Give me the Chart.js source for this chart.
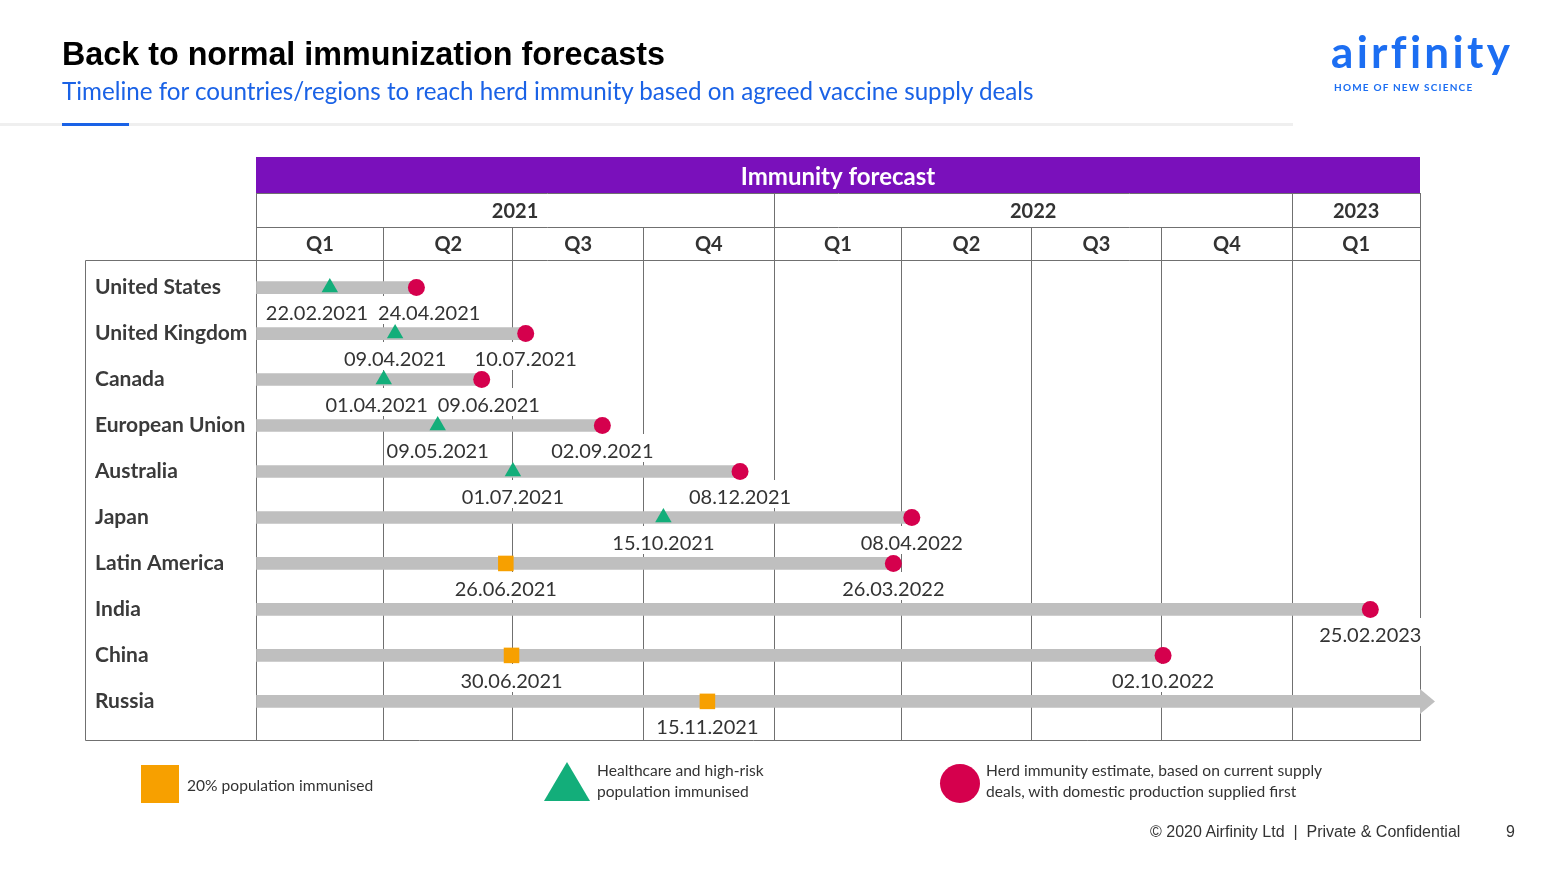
<!DOCTYPE html>
<html>
<head>
<meta charset="utf-8">
<script src="https://cdn.jsdelivr.net/npm/chart.js@4"></script>
<style>
  body { margin: 0; background: #fff; }
  #page { position: relative; width: 1547px; height: 869px; overflow: hidden; }
  #c { position: absolute; left: 0; top: 0; }
  .t { position: absolute; white-space: nowrap; line-height: 1; }
</style>
</head>
<body>
<div id="page">
  <canvas id="c" width="1547" height="869"></canvas>

  <div class="t" style="left:62px;top:36px;font:bold 32.3px 'Liberation Sans';color:#000">Back to normal immunization forecasts</div>
  <div class="t" style="left:62px;top:76px;font:24.2px Lato;color:#1a62e6">Timeline for countries/regions to reach herd immunity based on agreed vaccine supply deals</div>
  <div style="position:absolute;left:0;top:123px;width:1293px;height:3px;background:#efefef"></div>
  <div style="position:absolute;left:62px;top:123px;width:67px;height:3px;background:#1a62e6"></div>

  <!-- logo -->
  <div class="t" style="left:1331px;top:25px;font:bold 44px Lato;letter-spacing:3.3px;color:#1c6ef2">airfinity</div>
  <div class="t" style="left:1334px;top:81px;font:bold 10px Lato;letter-spacing:1.2px;color:#1c6ef2">HOME OF NEW SCIENCE</div>

  <!-- legend -->
  <div style="position:absolute;left:141px;top:765px;width:38px;height:38px;background:#f7a000"></div>
  <div class="t" style="left:187px;top:776px;font:15.6px Lato;color:#333">20% population immunised</div>
  <div style="position:absolute;left:544px;top:762px;width:0;height:0;border-left:23px solid transparent;border-right:23px solid transparent;border-bottom:39px solid #13ae7a"></div>
  <div class="t" style="left:597px;top:760px;font:15.6px Lato;line-height:21px;color:#333">Healthcare and high-risk<br>population immunised</div>
  <div style="position:absolute;left:940px;top:764px;width:40px;height:39px;border-radius:50%;background:#d5004d"></div>
  <div class="t" style="left:986px;top:760px;font:15.6px Lato;line-height:21px;color:#333">Herd immunity estimate, based on current supply<br>deals, with domestic production supplied first</div>

  <!-- footer -->
  <div class="t" style="left:1150px;top:823px;font:16px 'Liberation Sans';color:#333">© 2020 Airfinity Ltd&nbsp; |&nbsp; Private &amp; Confidential</div>
  <div class="t" style="left:1506px;top:823px;font:16px 'Liberation Sans';color:#333">9</div>
</div>

<script>
// Rows, top to bottom
const countries = ['United States', 'United Kingdom', 'Canada', 'European Union', 'Australia',
                   'Japan', 'Latin America', 'India', 'China', 'Russia'];

// Milestone dates (dd.mm.yyyy), null where a country has none
const healthcareDates = ['22.02.2021', '09.04.2021', '01.04.2021', '09.05.2021', '01.07.2021',
                         '15.10.2021', null, null, null, null];
const twentyPctDates = [null, null, null, null, null, null, '26.06.2021', null, '30.06.2021', '15.11.2021'];
const herdDates = ['24.04.2021', '10.07.2021', '09.06.2021', '02.09.2021', '08.12.2021',
                   '08.04.2022', '26.03.2022', '25.02.2023', '02.10.2022', null];

// Header
const quarterLabels = ['Q1', 'Q2', 'Q3', 'Q4', 'Q1', 'Q2', 'Q3', 'Q4', 'Q1'];
const quarterStarts = ['01.01.2021', '01.04.2021', '01.07.2021', '01.10.2021', '01.01.2022',
                       '01.04.2022', '01.07.2022', '01.10.2022', '01.01.2023', '01.04.2023'];
const yearLabels = ['2021', '2022', '2023'];
const yearStarts = ['01.01.2021', '01.01.2022', '01.01.2023', '01.04.2023'];

const PURPLE = '#7a10bb', GREEN = '#13ae7a', RED = '#d5004d', ORANGE = '#f7a000';
const BAR = '#bfbfbf', LINE = '#707070', TEXT = '#333333';

function toDay(s) {
    const [d, m, y] = s.split('.').map(Number);
    return (Date.UTC(y, m - 1, d) - Date.UTC(2021, 0, 1)) / 86400000;
}
const endDay = toDay(quarterStarts[quarterStarts.length - 1]);

function points(dates) {
    const out = [];
    dates.forEach((d, i) => { if (d) out.push({ x: toDay(d), y: i }); });
    return out;
}

const barData = countries.map((c, i) => ({ x: herdDates[i] ? toDay(herdDates[i]) : endDay, y: i }));

function px(v) { return Math.round(v - 0.5) + 0.5; }

// table header above the plot + left box
const headerPlugin = {
    id: 'header',
    afterDraw(chart) {
        const ctx = chart.ctx, xs = chart.scales.x;
        const { left, right, top, bottom } = chart.chartArea;
        const bandTop = top - 103, yearTop = top - 67, qTop = top - 33;
        ctx.save();
        ctx.fillStyle = PURPLE;
        ctx.fillRect(left, bandTop, right - left, 36);
        ctx.fillStyle = '#fff';
        ctx.font = 'bold 24px Lato';
        ctx.textAlign = 'center';
        ctx.textBaseline = 'middle';
        ctx.fillText('Immunity forecast', (left + right) / 2, bandTop + 20);

        ctx.strokeStyle = LINE;
        ctx.lineWidth = 1;
        ctx.beginPath();
        [yearTop, qTop, top].forEach(y => { ctx.moveTo(left, px(y)); ctx.lineTo(right + 1, px(y)); });
        // left box
        const boxL = px(left - 171);
        ctx.moveTo(boxL, px(top)); ctx.lineTo(left, px(top));
        ctx.moveTo(boxL, px(top)); ctx.lineTo(boxL, px(bottom));
        ctx.moveTo(boxL, px(bottom)); ctx.lineTo(right + 1, px(bottom));
        yearStarts.forEach(d => { const x = px(xs.getPixelForValue(toDay(d))); ctx.moveTo(x, yearTop); ctx.lineTo(x, qTop); });
        quarterStarts.forEach(d => { const x = px(xs.getPixelForValue(toDay(d))); ctx.moveTo(x, qTop); ctx.lineTo(x, top); });
        ctx.stroke();

        ctx.fillStyle = TEXT;
        ctx.font = 'bold 20px Lato';
        yearLabels.forEach((l, i) => {
            const a = xs.getPixelForValue(toDay(yearStarts[i])), b = xs.getPixelForValue(toDay(yearStarts[i + 1]));
            ctx.fillText(l, (a + b) / 2, yearTop + 19);
        });
        quarterLabels.forEach((l, i) => {
            const a = xs.getPixelForValue(toDay(quarterStarts[i])), b = xs.getPixelForValue(toDay(quarterStarts[i + 1]));
            ctx.fillText(l, (a + b) / 2, qTop + 18);
        });
        ctx.restore();
    }
};

// arrow head for open-ended bars, and date labels under markers
const labelPlugin = {
    id: 'dateLabels',
    afterDraw(chart) {
        const ctx = chart.ctx, xs = chart.scales.x, ys = chart.scales.y;
        const barMeta = chart.getDatasetMeta(chart.data.datasets.findIndex(d => d.type === 'bar'));
        ctx.save();

        ctx.font = '20px Lato';
        ctx.textAlign = 'center';
        ctx.textBaseline = 'middle';
        const labels = [];
        countries.forEach((c, i) => {
            const items = [healthcareDates[i], twentyPctDates[i], herdDates[i]]
                .filter(Boolean)
                .map(t => ({ t, x: xs.getPixelForValue(toDay(t)), w: ctx.measureText(t).width }))
                .sort((a, b) => a.x - b.x);
            for (let k = 0; k < items.length - 1; k++) {
                const a = items[k], b = items[k + 1];
                const need = (a.w + b.w) / 2 + 10 - (b.x - a.x);
                if (need > 0) { a.x -= need / 2; b.x += need / 2; }
            }
            const y = ys.getPixelForValue(i) + 25;
            items.forEach(it => { it.y = y; labels.push(it); });
        });
        // white boxes first (they hide the grid lines), then text
        ctx.fillStyle = '#ffffff';
        labels.forEach(it => {
            ctx.fillRect(Math.floor(it.x - it.w / 2) - 2, Math.floor(it.y) - 16, Math.ceil(it.w) + 4, 28);
        });
        ctx.fillStyle = TEXT;
        labels.forEach(it => ctx.fillText(it.t, it.x, it.y + 1));

        ctx.fillStyle = BAR;
        herdDates.forEach((d, i) => {
            if (d) return;
            const el = barMeta.data[i];
            ctx.beginPath();
            ctx.moveTo(el.x, el.y - 12.5);
            ctx.lineTo(el.x + 15, el.y);
            ctx.lineTo(el.x, el.y + 12.5);
            ctx.closePath();
            ctx.fill();
        });
        ctx.restore();
    }
};

new Chart(document.getElementById('c'), {
    type: 'bar',
    data: {
        datasets: [
            {
                type: 'scatter', label: 'Herd immunity', data: points(herdDates),
                pointStyle: 'circle', pointRadius: 8.5, backgroundColor: RED, borderWidth: 0, order: 1
            },
            {
                type: 'scatter', label: 'Healthcare and high-risk', data: points(healthcareDates),
                pointStyle: 'triangle', pointRadius: 9.5, backgroundColor: GREEN, borderWidth: 0, order: 1
            },
            {
                type: 'scatter', label: '20% population', data: points(twentyPctDates),
                pointStyle: 'rect', pointRadius: 11, backgroundColor: ORANGE, borderWidth: 0, order: 1
            },
            {
                type: 'bar', indexAxis: 'y', data: barData, backgroundColor: BAR,
                barThickness: 12, borderWidth: 0, order: 10
            }
        ]
    },
    options: {
        responsive: false,
        animation: false,
        events: [],
        devicePixelRatio: 1,
        layout: { padding: { left: 95, top: 260, right: 127, bottom: 129 } },
        scales: {
            x: {
                type: 'linear', min: 0, max: endDay, offset: false,
                afterBuildTicks: s => { s.ticks = quarterStarts.map(d => ({ value: toDay(d) })); },
                afterFit: s => { s.height = 0; },
                ticks: { display: false },
                grid: { color: LINE, lineWidth: 1, drawTicks: false, offset: false, z: -1 },
                border: { display: false }
            },
            y: {
                type: 'linear', reverse: true, min: -0.6, max: 9.84, offset: false,
                afterBuildTicks: s => { s.ticks = countries.map((c, i) => ({ value: i })); },
                afterFit: s => { s.width = 161; },
                ticks: {
                    callback: v => countries[v],
                    crossAlign: 'far', padding: 0, autoSkip: false,
                    color: '#3a3a3a', font: { family: 'Lato', weight: 'bold', size: 21 }
                },
                grid: { display: false, offset: false },
                border: { display: false }
            }
        },
        plugins: { legend: { display: false }, tooltip: { enabled: false } }
    },
    plugins: [headerPlugin, labelPlugin]
});
</script>
</body>
</html>
